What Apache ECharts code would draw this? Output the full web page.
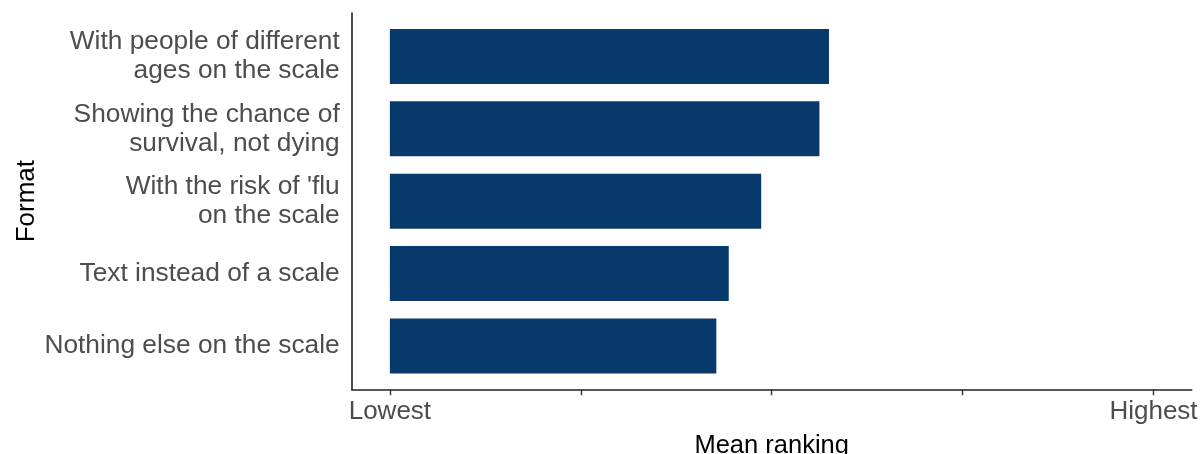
<!DOCTYPE html>
<html>
<head>
<meta charset="utf-8">
<script src="https://cdn.jsdelivr.net/npm/echarts@6/dist/echarts.min.js"></script>
<style>
  html, body { margin: 0; padding: 0; background: #ffffff; }
  #chart { width: 1201px; height: 454px; }
</style>
</head>
<body>
<div id="chart"></div>
<script>
// ---- data ----
var categories = [
  "With people of different\nages on the scale",
  "Showing the chance of\nsurvival, not dying",
  "With the risk of 'flu\non the scale",
  "Text instead of a scale",
  "Nothing else on the scale"
];
var meanRanking = [2.30, 2.25, 1.945, 1.775, 1.71];
var xTickValues = [0, 1, 2, 3, 4];
var xTickLabels = ["Lowest", "", "", "", "Highest"];
var xAxisTitle = "Mean ranking";
var yAxisTitle = "Format";

// ---- chart ----
var barColor = "#08396b";
var fontFamily = "'Liberation Sans', Arial, sans-serif";
var positions = categories.map(function (c, i) { return i + 1; });
var seriesData = meanRanking.map(function (v, i) { return [v, positions[i]]; });

var chart = echarts.init(document.getElementById('chart'), null, { renderer: 'canvas' });
chart.setOption({
  animation: false,
  backgroundColor: '#ffffff',
  grid: {
    left: 351.7, right: 9.3, top: 13, bottom: 64.7,
    containLabel: false, outerBoundsMode: 'none'
  },
  xAxis: {
    type: 'value',
    min: -0.2, max: 4.2,
    name: xAxisTitle,
    nameLocation: 'middle',
    nameGap: 44,
    nameMoveOverlap: false,
    nameTextStyle: { color: '#000000', fontSize: 25.5, fontFamily: fontFamily, lineHeight: 25.5 },
    axisLine: { show: true, onZero: false, lineStyle: { color: '#222222', width: 1.6 } },
    axisTick: { show: true, length: 6, customValues: xTickValues, lineStyle: { color: '#333333', width: 1.4 } },
    axisLabel: {
      show: true,
      customValues: xTickValues,
      margin: 10,
      color: '#4d4d4d', fontSize: 26, fontFamily: fontFamily, lineHeight: 26,
      formatter: function (v) {
        var idx = xTickValues.indexOf(Math.round(v * 1000) / 1000);
        return idx >= 0 ? xTickLabels[idx] : '';
      }
    },
    splitLine: { show: false }
  },
  yAxis: {
    type: 'value',
    min: 0.4, max: 5.6,
    inverse: true,
    name: yAxisTitle,
    nameLocation: 'middle',
    nameRotate: 90,
    nameGap: 312,
    nameMoveOverlap: false,
    nameTextStyle: { color: '#000000', fontSize: 26, fontFamily: fontFamily, lineHeight: 26 },
    axisLine: { show: true, onZero: false, lineStyle: { color: '#222222', width: 1.6 } },
    axisTick: { show: false },
    axisLabel: {
      show: true,
      customValues: positions,
      margin: 12,
      align: 'right',
      color: '#4d4d4d', fontSize: 26.3, fontFamily: fontFamily, lineHeight: 29,
      formatter: function (v) {
        var idx = positions.indexOf(Math.round(v));
        return idx >= 0 ? categories[idx] : '';
      }
    },
    splitLine: { show: false }
  },
  series: [{
    type: 'custom',
    encode: { x: 0, y: 1 },
    data: seriesData,
    renderItem: function (params, api) {
      var v = api.value(0);
      var p = api.value(1);
      var start = api.coord([0, p]);
      var end = api.coord([v, p]);
      var h = Math.abs(api.size([0, 0.76])[1]);
      return {
        type: 'rect',
        shape: { x: start[0], y: start[1] - h / 2, width: end[0] - start[0], height: h },
        style: { fill: barColor }
      };
    }
  }]
});
</script>
</body>
</html>
